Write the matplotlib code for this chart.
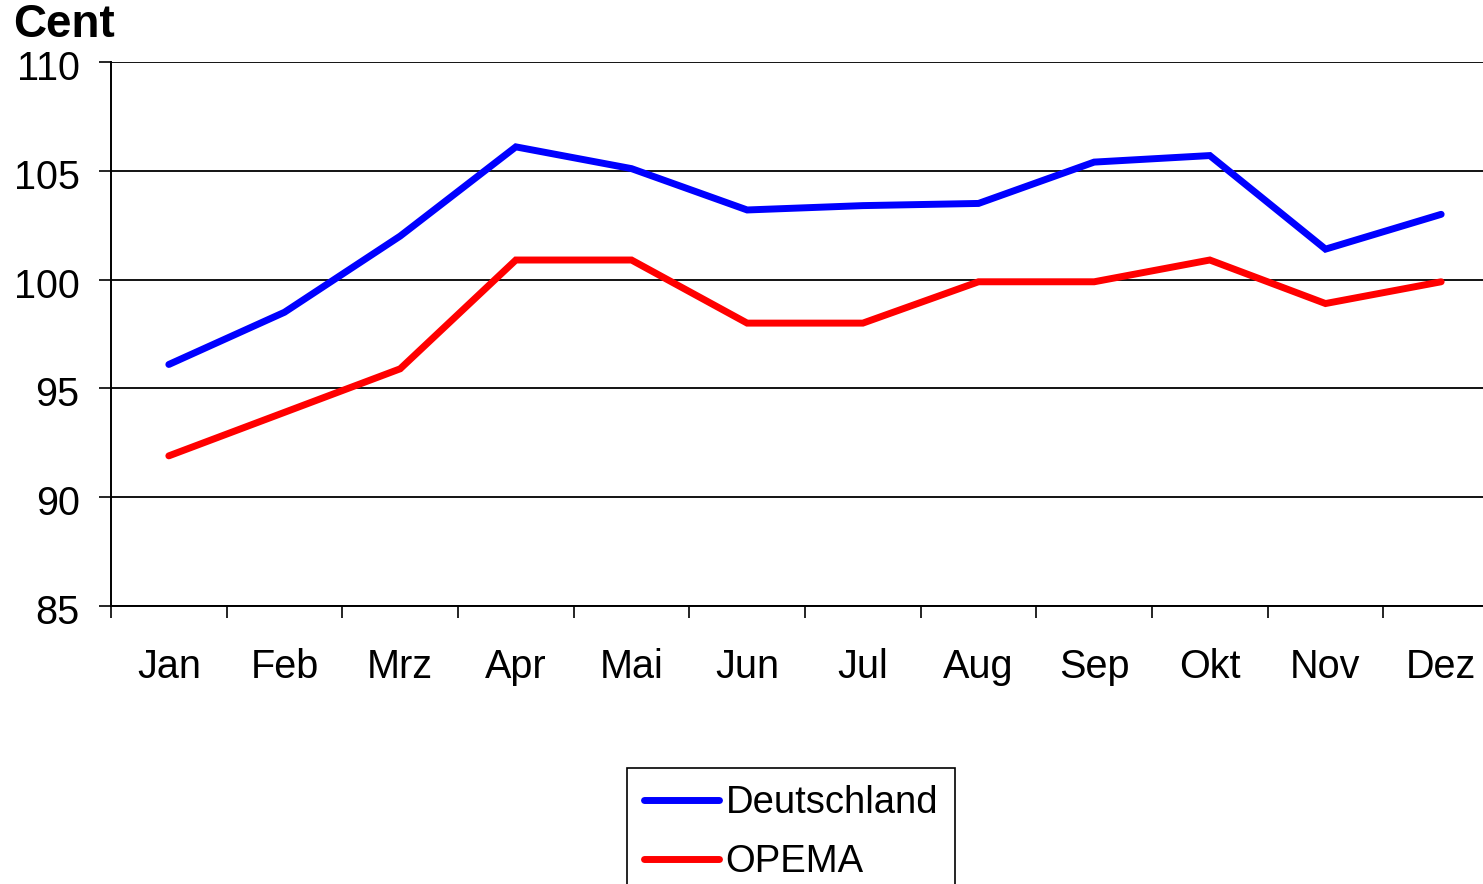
import matplotlib
matplotlib.use("Agg")
import matplotlib.pyplot as plt
import matplotlib.transforms as mtransforms
import numpy as np

plt.rcParams["font.family"] = ["Liberation Sans", "DejaVu Sans"]

months = ["Jan", "Feb", "Mrz", "Apr", "Mai", "Jun", "Jul", "Aug", "Sep", "Okt", "Nov", "Dez"]
deutschland = [96.1, 98.5, 102.0, 106.1, 105.1, 103.2, 103.4, 103.5, 105.4, 105.7, 101.4, 103.0]
opema = [91.9, 93.9, 95.9, 100.9, 100.9, 98.0, 98.0, 99.9, 99.9, 100.9, 98.9, 99.9]
yticks = [85, 90, 95, 100, 105, 110]

W, H = 1483, 884
fig = plt.figure(figsize=(W / 100, H / 100), dpi=100)
ax = fig.add_axes([111 / W, 1 - 606 / H, (1499 - 111) / W, (606 - 62) / H])

x = np.arange(len(months))
ax.plot(x, deutschland, color="#0000ff", lw=5.0, solid_capstyle="round",
        solid_joinstyle="miter", label="Deutschland", zorder=3)
ax.plot(x, opema, color="#ff0000", lw=5.0, solid_capstyle="round",
        solid_joinstyle="miter", label="OPEMA", zorder=3)

ax.set_xlim(-0.5, len(months) - 0.5)
ax.set_ylim(85, 110)
ax.set_yticks(yticks)
ax.set_xticks(x)
ax.set_xticklabels(months)
ax.set_xticks(np.arange(len(months) + 1) - 0.5, minor=True)

ax.yaxis.grid(True, color="black", lw=1.3, zorder=1)
for s in ("top", "right"):
    ax.spines[s].set_visible(False)
for s in ("left", "bottom"):
    ax.spines[s].set_linewidth(1.4)

ax.tick_params(axis="y", direction="out", length=8.6, width=1.2, pad=14, labelsize=28.5)
ax.tick_params(axis="x", which="major", length=0, pad=30, labelsize=28.5)
ax.tick_params(axis="x", which="minor", direction="out", length=8.6, width=1.2)

# the y labels sit a few pixels below their gridlines in the original
shift = mtransforms.ScaledTranslation(0, -3 / 100, fig.dpi_scale_trans)
for lbl in ax.get_yticklabels():
    lbl.set_transform(lbl.get_transform() + shift)

fig.text(13 / W, 1 - 3 / H, "Cent", fontsize=33, fontweight="bold", va="top", ha="left")

leg = fig.legend(loc="upper left", bbox_to_anchor=(627 / W, 1 - 768 / H), fontsize=27.5,
                 frameon=True, fancybox=False, edgecolor="black", framealpha=1,
                 handlelength=1.95, handletextpad=0.18, labelspacing=0.6,
                 borderpad=0.45, borderaxespad=0)
leg.get_frame().set_linewidth(1.2)

fig.savefig("out.png", dpi=100)
